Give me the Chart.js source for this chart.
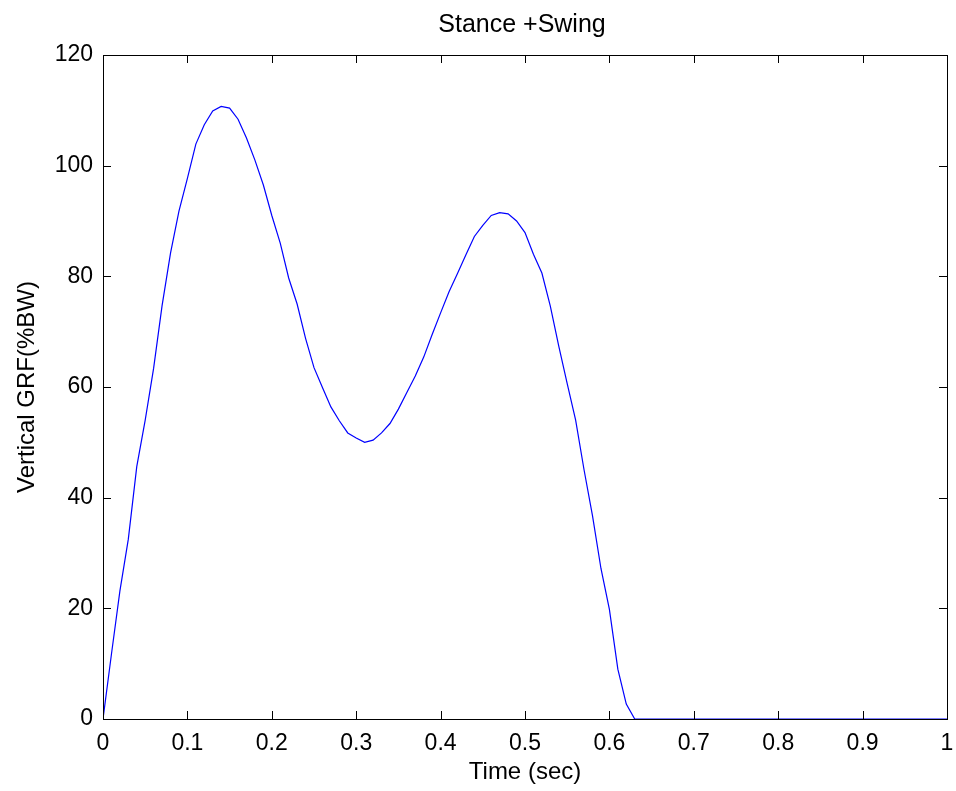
<!DOCTYPE html>
<html>
<head>
<meta charset="utf-8">
<script src="https://cdn.jsdelivr.net/npm/chart.js@4/dist/chart.umd.min.js"></script>
<style>
  html, body { margin: 0; padding: 0; background: #fff; }
  #c { display: block; }
</style>
</head>
<body>
<canvas id="c" width="956" height="791"></canvas>
<script>
// ---- data ----
const chartTitle = "Stance +Swing";
const xAxisLabel = "Time (sec)";
const yAxisLabel = "Vertical GRF(%BW)";

const timeSec = [0.00, 0.01, 0.02, 0.03, 0.04, 0.05, 0.06, 0.07, 0.08, 0.09,
                 0.10, 0.11, 0.12, 0.13, 0.14, 0.15, 0.16, 0.17, 0.18, 0.19,
                 0.20, 0.21, 0.22, 0.23, 0.24, 0.25, 0.26, 0.27, 0.28, 0.29,
                 0.30, 0.31, 0.32, 0.33, 0.34, 0.35, 0.36, 0.37, 0.38, 0.39,
                 0.40, 0.41, 0.42, 0.43, 0.44, 0.45, 0.46, 0.47, 0.48, 0.49,
                 0.50, 0.51, 0.52, 0.53, 0.54, 0.55, 0.56, 0.57, 0.58, 0.59,
                 0.60, 0.61, 0.62, 0.63, 1.00];
const grfPctBW = [0.0, 11.7, 23.1, 32.5, 45.6, 54.0, 63.4, 74.7, 84.2, 91.8,
                  97.7, 103.9, 107.4, 109.9, 110.7, 110.4, 108.4, 105.0, 101.0, 96.5,
                  91.0, 86.0, 79.7, 75.0, 68.8, 63.5, 59.9, 56.4, 53.9, 51.7,
                  50.8, 50.0, 50.4, 51.7, 53.4, 56.0, 59.0, 62.0, 65.4, 69.5,
                  73.4, 77.2, 80.5, 83.9, 87.2, 89.2, 91.0, 91.5, 91.3, 90.0,
                  87.9, 84.0, 80.6, 74.6, 67.4, 60.6, 54.0, 45.0, 36.7, 27.2,
                  19.8, 9.0, 2.7, 0.0, 0.0];

const xMin = 0, xMax = 1, xStep = 0.1;
const yMin = 0, yMax = 120, yStep = 20;

// ---- chart ----
const FONT = "'Liberation Sans', Arial, Helvetica, sans-serif";

const boxPlugin = {
  id: 'matlabBox',
  afterDraw(chart) {
    const {ctx, chartArea: a, scales} = chart;
    ctx.save();
    ctx.strokeStyle = '#000';
    ctx.lineWidth = 1;
    ctx.strokeRect(Math.round(a.left) + 0.5, Math.round(a.top) + 0.5,
                   Math.round(a.right - a.left), Math.round(a.bottom - a.top));
    const tl = 8;
    ctx.beginPath();
    scales.x.ticks.forEach(t => {
      const px = Math.round(scales.x.getPixelForValue(t.value)) + 0.5;
      ctx.moveTo(px, a.bottom); ctx.lineTo(px, a.bottom - tl);
      ctx.moveTo(px, a.top); ctx.lineTo(px, a.top + tl);
    });
    scales.y.ticks.forEach(t => {
      const py = Math.round(scales.y.getPixelForValue(t.value)) + 0.5;
      ctx.moveTo(a.left, py); ctx.lineTo(a.left + tl, py);
      ctx.moveTo(a.right, py); ctx.lineTo(a.right - tl, py);
    });
    ctx.stroke();
    ctx.fillStyle = '#000';
    ctx.font = "25px " + FONT;
    ctx.textAlign = 'center';
    ctx.textBaseline = 'alphabetic';
    ctx.fillText(chartTitle, 522, 32);
    ctx.restore();
  }
};

new Chart(document.getElementById('c'), {
  type: 'line',
  data: {
    datasets: [{
      data: timeSec.map((t, i) => ({x: t, y: grfPctBW[i]})),
      borderColor: 'rgb(0,0,255)',
      borderWidth: 1.2,
      pointRadius: 0,
      tension: 0,
      fill: false
    }]
  },
  options: {
    responsive: false,
    animation: false,
    layout: { padding: { top: 55, right: 9, left: 0, bottom: 0 } },
    plugins: { legend: { display: false }, tooltip: { enabled: false }, title: { display: false } },
    scales: {
      x: {
        type: 'linear', min: xMin, max: xMax,
        grid: { display: false },
        border: { display: false },
        ticks: { stepSize: xStep, color: '#000', padding: 3, maxRotation: 0,
                 font: { family: FONT, size: 23 },
                 callback: v => String(Math.round(v * 10) / 10) },
        title: { display: true, text: xAxisLabel, color: '#000',
                 font: { family: FONT, size: 24 }, padding: { top: 0, bottom: 4 } },
        afterFit(s) { s.height = 72; s.paddingLeft = 0; s.paddingRight = 0; }
      },
      y: {
        type: 'linear', min: yMin, max: yMax,
        grid: { display: false },
        border: { display: false },
        ticks: { stepSize: yStep, color: '#000', padding: 2,
                 font: { family: FONT, size: 23 } },
        title: { display: true, text: yAxisLabel, color: '#000',
                 font: { family: FONT, size: 24 }, padding: { top: 13, bottom: 0 } },
        afterFit(s) { s.width = 103; s.paddingTop = 0; s.paddingBottom = 0; }
      }
    }
  },
  plugins: [boxPlugin]
});
</script>
</body>
</html>
